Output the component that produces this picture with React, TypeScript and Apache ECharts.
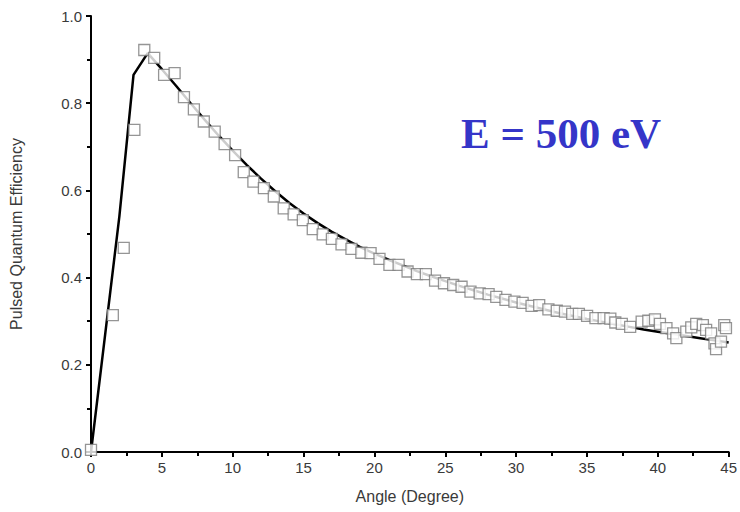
import React, { useEffect, useRef } from "react";
import * as echarts from "echarts";

const measAngle = [0, 1.54, 2.31, 3.06, 3.76, 4.46, 5.16, 5.9, 6.56, 7.26, 7.96, 8.73, 9.43, 10.17, 10.78, 11.46, 12.2, 12.9, 13.6, 14.3, 14.95, 15.65, 16.35, 17.0, 17.68, 18.38, 19.08, 19.73, 20.36, 21.06, 21.71, 22.34, 23.0, 23.63, 24.28, 24.91, 25.56, 26.15, 26.78, 27.43, 28.06, 28.6, 29.25, 29.88, 30.46, 31.09, 31.63, 32.28, 32.87, 33.45, 33.96, 34.43, 35.01, 35.6, 36.18, 36.65, 37.0, 37.46, 38.05, 38.86, 39.33, 39.8, 40.15, 40.61, 41.08, 41.31, 42.01, 42.36, 42.71, 43.18, 43.41, 43.76, 44.0, 44.11, 44.46, 44.69, 44.81];
const measQE = [0.005, 0.314, 0.468, 0.739, 0.922, 0.904, 0.865, 0.869, 0.814, 0.786, 0.758, 0.735, 0.706, 0.681, 0.642, 0.62, 0.605, 0.586, 0.559, 0.545, 0.532, 0.511, 0.499, 0.489, 0.476, 0.466, 0.457, 0.456, 0.443, 0.429, 0.429, 0.414, 0.408, 0.408, 0.393, 0.387, 0.383, 0.379, 0.368, 0.364, 0.362, 0.356, 0.349, 0.345, 0.342, 0.335, 0.337, 0.327, 0.324, 0.322, 0.317, 0.317, 0.312, 0.307, 0.307, 0.306, 0.297, 0.294, 0.287, 0.299, 0.301, 0.304, 0.294, 0.284, 0.272, 0.261, 0.276, 0.286, 0.294, 0.291, 0.28, 0.272, 0.249, 0.236, 0.253, 0.291, 0.284];

const theoryAngle = [0, 1, 2, 3, 4, 5, 6, 7, 8, 9, 10, 11, 12, 13, 14, 15, 16, 17, 18, 19, 20, 21, 22, 23, 24, 25, 26, 27, 28, 29, 30, 31, 32, 33, 34, 35, 36, 37, 38, 39, 40, 41, 42, 43, 44, 45];
const theoryQE = [0, 0.27, 0.54, 0.865, 0.915, 0.878, 0.84, 0.801, 0.763, 0.726, 0.691, 0.658, 0.627, 0.598, 0.571, 0.547, 0.525, 0.505, 0.487, 0.47, 0.455, 0.441, 0.428, 0.415, 0.403, 0.392, 0.381, 0.371, 0.361, 0.352, 0.343, 0.335, 0.327, 0.319, 0.312, 0.305, 0.299, 0.293, 0.287, 0.281, 0.276, 0.271, 0.266, 0.261, 0.256, 0.251];

const titleText = "E = 500 eV";
const xName = "Angle (Degree)";
const yName = "Pulsed Quantum Efficiency";

export default function App() {
  const ref = useRef<HTMLDivElement>(null);
  useEffect(() => {
    if (!ref.current) return;
    const chart = echarts.init(ref.current, null, { renderer: "svg" });
    const labelStyle = { color: "#3a3a3a", fontFamily: "Liberation Sans", fontSize: 15 };
    chart.setOption({
      animation: false,
      backgroundColor: "#fff",
      grid: { left: 88, right: 9, top: 16, bottom: 60 },
      xAxis: {
        type: "value",
        min: 0,
        max: 45,
        interval: 5,
        name: xName,
        nameLocation: "middle",
        nameGap: 36,
        nameTextStyle: { ...labelStyle, fontSize: 16 },
        axisLine: { lineStyle: { color: "#000", width: 2 } },
        axisTick: { show: true, inside: false, length: 5, lineStyle: { color: "#000", width: 2 } },
        minorTick: { show: true, splitNumber: 2, length: 4, lineStyle: { color: "#000", width: 2 } },
        axisLabel: { ...labelStyle, margin: 8 },
        splitLine: { show: false },
      },
      yAxis: {
        type: "value",
        min: 0,
        max: 1,
        interval: 0.2,
        name: yName,
        nameLocation: "middle",
        nameGap: 67,
        nameTextStyle: { ...labelStyle, fontSize: 16 },
        axisLine: { show: true, lineStyle: { color: "#000", width: 2 } },
        axisTick: { show: true, inside: false, length: 5, lineStyle: { color: "#000", width: 2 } },
        minorTick: { show: true, splitNumber: 2, length: 4, lineStyle: { color: "#000", width: 2 } },
        axisLabel: { ...labelStyle, margin: 9, formatter: (v: number) => v.toFixed(1) },
        splitLine: { show: false },
      },
      series: [
        {
          type: "line",
          data: theoryAngle.map((a, i) => [a, theoryQE[i]]),
          showSymbol: false,
          symbol: "none",
          lineStyle: { color: "#000", width: 2.5 },
          z: 2,
        },
        {
          type: "scatter",
          data: measAngle.map((a, i) => [a, measQE[i]]),
          symbol: "rect",
          symbolSize: 11,
          itemStyle: { color: "#fff", borderColor: "#7a7a7a", borderWidth: 1.3 },
          z: 3,
        },
      ],
      graphic: [
        {
          type: "text",
          left: 461,
          top: 112,
          style: {
            text: titleText,
            fontFamily: "Liberation Serif",
            fontWeight: "bold",
            fontSize: 43,
            fill: "#3535c8",
          },
        },
      ],
    });
    return () => chart.dispose();
  }, []);
  return <div ref={ref} style={{ width: 740, height: 512, position: "absolute", left: 0, top: 0 }} />;
}
